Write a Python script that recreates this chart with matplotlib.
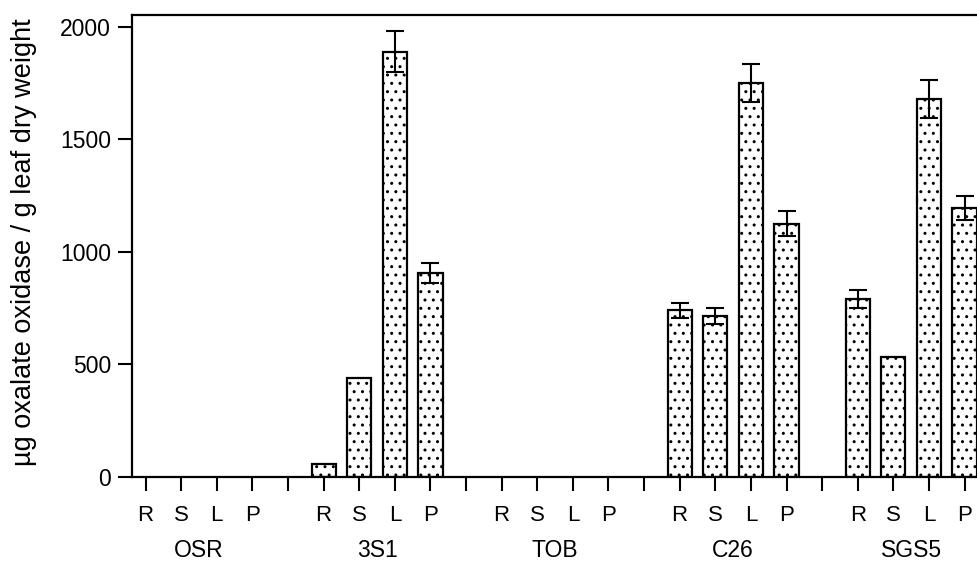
import numpy as np
import matplotlib.pyplot as plt

plt.rcParams['font.family'] = ['Liberation Sans', 'DejaVu Sans']
plt.rcParams['hatch.linewidth'] = 1.0

groups = ["OSR", "3S1", "TOB", "C26", "SGS5"]
parts = ["R", "S", "L", "P"]

# mean activity per part (R, S, L, P) for each line
osr = [0, 0, 0, 0]
s31 = [60, 440, 1890, 905]
tob = [0, 0, 0, 0]
c26 = [740, 715, 1750, 1125]
sgs5 = [790, 535, 1680, 1195]

# error bars
osr_err = [0, 0, 0, 0]
s31_err = [0, 0, 90, 45]
tob_err = [0, 0, 0, 0]
c26_err = [35, 35, 85, 55]
sgs5_err = [40, 0, 85, 55]

values = [osr, s31, tob, c26, sgs5]
errors = [osr_err, s31_err, tob_err, c26_err, sgs5_err]

fig = plt.figure(figsize=(9.77, 5.61), dpi=100)
ax = fig.add_axes([0.1348, 0.1497, 0.8652, 0.8236])

for gi, (vals, errs) in enumerate(zip(values, errors)):
    x = np.arange(4) + gi * 5
    vals = np.array(vals)
    shown = vals > 0
    if shown.any():
        ax.bar(x[shown], vals[shown], width=0.68, color="white",
               edgecolor="black", linewidth=1.6, hatch="..", zorder=2)
    has = [i for i, e in enumerate(errs) if e > 0]
    if has:
        ax.errorbar(x[has], vals[has], yerr=np.array(errs)[has],
                    fmt="none", ecolor="black", elinewidth=1.5,
                    capsize=6.5, capthick=1.5, zorder=3)

ticks = np.arange(24)
labels = [(parts[t % 5] if t % 5 < 4 else "") for t in ticks]
ax.set_xticks(ticks)
ax.set_xticklabels(labels)
ax.set_xlim(-0.39, 23.35)
ax.set_ylim(0, 2053)
ax.set_yticks([0, 500, 1000, 1500, 2000])

for gi, g in enumerate(groups):
    ax.text(gi * 5 + 1.5, -0.158, g, transform=ax.get_xaxis_transform(),
            ha="center", va="center", fontsize=16.5)

ax.spines["right"].set_visible(False)
for s in ["left", "bottom", "top"]:
    ax.spines[s].set_linewidth(1.6)
ax.tick_params(axis="both", direction="out", length=10, width=1.5)
ax.tick_params(axis="x", pad=10, labelsize=16)
ax.tick_params(axis="y", pad=5, labelsize=16.5)

fig.text(0.025, 0.569, "µg oxalate oxidase / g leaf dry weight",
         rotation=90, ha="center", va="center", fontsize=19.5)

fig.savefig("out.png", dpi=100)
